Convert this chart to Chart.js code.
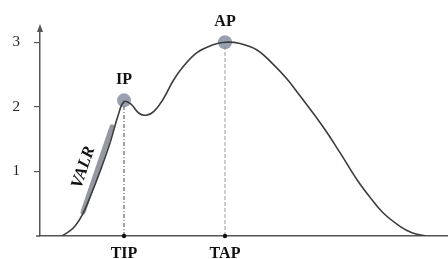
<!DOCTYPE html>
<html>
<head>
<meta charset="utf-8">
<script src="https://cdn.jsdelivr.net/npm/chart.js@4"></script>
<style>
  html, body { margin: 0; padding: 0; background: #fff; }
  #wrap { width: 448px; height: 259px; }
</style>
</head>
<body>
<div id="wrap"><canvas id="curveChart"></canvas></div>
<script>
// curve (time in arbitrary units, value 0..3)
const curveT = [5.5, 8.25, 10.5, 12.5, 15, 17.5, 19.5, 21, 22.75, 24.75, 26.5, 28.5, 31, 33.25, 35.75, 39.25, 43.25, 46.25, 50, 54.25, 58.25, 61.75, 65, 70.75, 75, 79.25, 82.5, 85.75, 90, 93, 96.5];
const curveV = [0, 0.12, 0.32, 0.6, 1.0, 1.44, 1.86, 2.08, 2.04, 1.9, 1.87, 1.93, 2.14, 2.4, 2.62, 2.84, 2.96, 3.0, 2.98, 2.88, 2.66, 2.43, 2.17, 1.69, 1.29, 0.87, 0.6, 0.36, 0.15, 0.05, 0];

// marked peaks
const peakLabels = ['IP', 'AP'];
const peakT = [21, 46.25];
const peakV = [2.1, 3.0];
const timeLabels = ['TIP', 'TAP'];

// rising slope marker
const valrT = [10.75, 18];
const valrV = [0.37, 1.69];
const valrText = 'VALR';

const yTicks = [1, 2, 3];

const serif = '"Liberation Serif", "Times New Roman", serif';
const axisColor = '#555';

// draws peak labels, slope label, arrow head on y axis
const annotations = {
    id: 'annotations',
    afterDraw(chart) {
        const ctx = chart.ctx;
        const x = chart.scales.x;
        const y = chart.scales.y;
        const area = chart.chartArea;

        ctx.save();
        // arrow on y axis
        ctx.fillStyle = axisColor;
        ctx.beginPath();
        ctx.moveTo(area.left, area.top - 4);
        ctx.lineTo(area.left - 3, area.top + 4);
        ctx.lineTo(area.left + 3, area.top + 4);
        ctx.closePath();
        ctx.fill();
        // small x axis overhang
        ctx.strokeStyle = axisColor;
        ctx.lineWidth = 1.5;
        ctx.beginPath();
        ctx.moveTo(area.left - 4, area.bottom);
        ctx.lineTo(area.left, area.bottom);
        ctx.stroke();

        // peak labels
        ctx.fillStyle = '#111';
        ctx.font = 'bold 16px ' + serif;
        ctx.textAlign = 'center';
        ctx.textBaseline = 'middle';
        peakLabels.forEach((lab, i) => {
            ctx.fillText(lab, x.getPixelForValue(peakT[i]), y.getPixelForValue(peakV[i]) - 20);
        });

        // slope label
        const p0x = x.getPixelForValue(valrT[0]), p0y = y.getPixelForValue(valrV[0]);
        const p1x = x.getPixelForValue(valrT[1]), p1y = y.getPixelForValue(valrV[1]);
        const ang = Math.atan2(p1y - p0y, p1x - p0x);
        ctx.translate((p0x + p1x) / 2 - 14, (p0y + p1y) / 2 - 2);
        ctx.rotate(ang);
        ctx.font = 'italic bold 17px ' + serif;
        ctx.fillText(valrText, 0, 0);
        ctx.restore();
    }
};

const ctx = document.getElementById('curveChart').getContext('2d');

new Chart(ctx, {
    type: 'line',
    data: {
        datasets: [
            {
                label: 'curve',
                data: curveT.map((t, i) => ({ x: t, y: curveV[i] })),
                borderColor: '#3c3c3c',
                borderWidth: 1.6,
                pointRadius: 0,
                tension: 0.4,
                order: 1
            },
            {
                label: 'VALR',
                data: valrT.map((t, i) => ({ x: t, y: valrV[i] })),
                borderColor: 'rgba(120, 126, 138, 0.8)',
                borderWidth: 5,
                borderCapStyle: 'round',
                pointRadius: 0,
                order: 2
            },
            {
                label: 'TIP line',
                data: [{ x: peakT[0], y: 0 }, { x: peakT[0], y: peakV[0] }],
                borderColor: '#444',
                borderWidth: 1,
                borderDash: [4, 2, 1, 2],
                pointRadius: 0,
                order: 4
            },
            {
                label: 'TAP line',
                data: [{ x: peakT[1], y: 0 }, { x: peakT[1], y: peakV[1] }],
                borderColor: '#9a9a9a',
                borderWidth: 1,
                borderDash: [4, 2],
                pointRadius: 0,
                order: 4
            },
            {
                label: 'peaks',
                data: peakT.map((t, i) => ({ x: t, y: peakV[i] })),
                showLine: false,
                pointRadius: 7,
                pointBackgroundColor: 'rgba(128, 138, 156, 0.8)',
                pointBorderWidth: 0,
                order: 3
            },
            {
                label: 'base dots',
                data: peakT.map(t => ({ x: t, y: 0 })),
                showLine: false,
                pointRadius: 2.2,
                pointBackgroundColor: '#111',
                pointBorderWidth: 0,
                clip: false,
                order: 0
            }
        ]
    },
    options: {
        responsive: true,
        maintainAspectRatio: false,
        animation: false,
        layout: { autoPadding: false, padding: { top: 28, right: 0, left: 0, bottom: 0 } },
        plugins: {
            legend: { display: false },
            tooltip: { enabled: false }
        },
        scales: {
            x: {
                type: 'linear',
                min: 0,
                max: 102,
                afterFit: scale => { scale.height = 23; },
                afterBuildTicks: axis => { axis.ticks = peakT.map(v => ({ value: v })); },
                grid: { display: false, drawTicks: false },
                border: { display: true, color: axisColor, width: 1.5 },
                ticks: {
                    padding: 8,
                    color: '#111',
                    font: { family: serif, size: 16, weight: 'bold' },
                    maxRotation: 0,
                    callback: (v, i) => timeLabels[i]
                }
            },
            y: {
                type: 'linear',
                min: 0,
                max: 3.22,
                afterFit: scale => { scale.width = 40; },
                afterBuildTicks: axis => { axis.ticks = yTicks.map(v => ({ value: v })); },
                grid: { display: true, drawOnChartArea: false, drawTicks: true, tickLength: 6, color: axisColor, lineWidth: 1.2 },
                border: { display: true, color: axisColor, width: 1.5 },
                ticks: {
                    padding: 14,
                    color: '#222',
                    font: { family: serif, size: 15 }
                }
            }
        }
    },
    plugins: [annotations]
});
</script>
</body>
</html>
